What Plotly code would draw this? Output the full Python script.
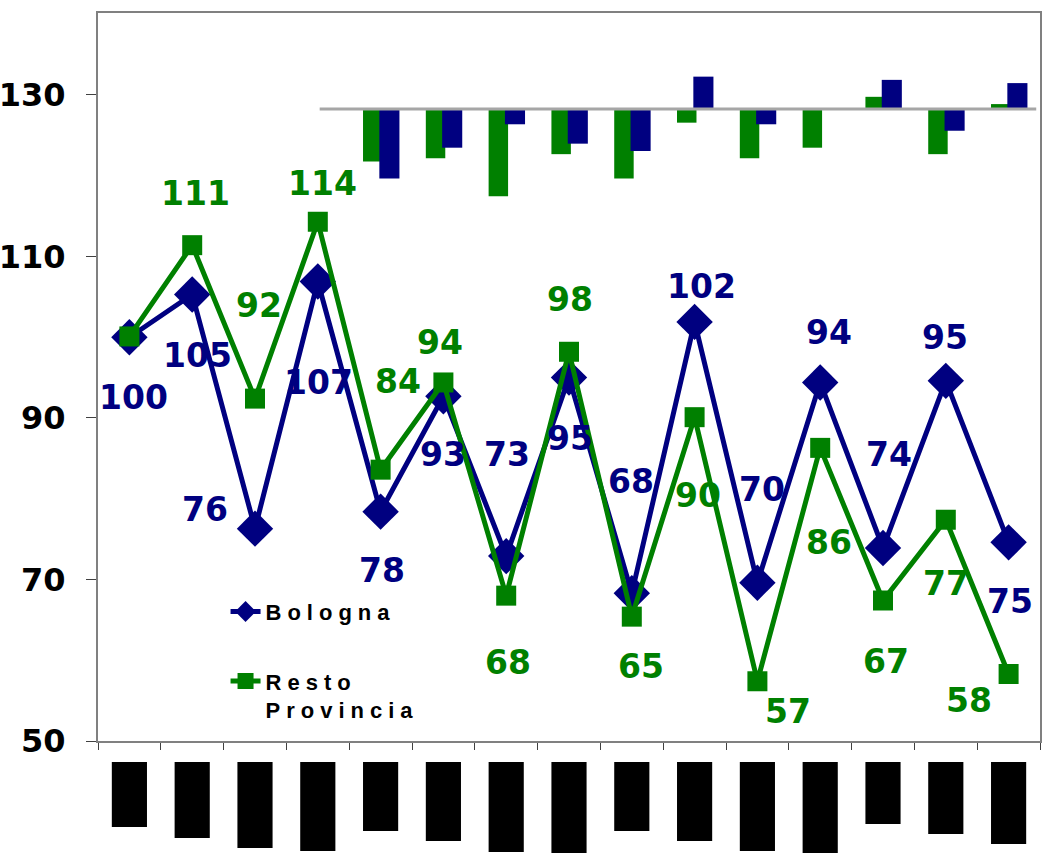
import plotly.graph_objects as go

# ---------------- data ----------------
categories = list(range(15))  # category positions (labels are hidden in the reference)
bologna = [100.0, 105.3, 76.3, 106.9, 78.4, 92.7, 72.9, 95.0, 68.3, 101.9, 69.6, 94.4, 73.9, 94.6, 74.6]
resto = [100.1, 111.4, 92.4, 114.3, 83.6, 94.4, 68.0, 98.2, 65.4, 90.1, 57.4, 86.3, 67.4, 77.4, 58.3]

# variation bars hanging from the upper baseline (categories 5..15)
var_resto = [None, None, None, None, -6.5, -6.1, -10.8, -5.6, -8.6, -1.7, -6.1, -4.8, 1.5, -5.6, 0.6]
var_bologna = [None, None, None, None, -8.6, -4.8, -1.9, -4.3, -5.2, 4.0, -1.9, 0.0, 3.6, -2.7, 3.2]

# black blocks under the x axis (hidden category labels), lengths in px-like units
label_blocks = [65, 76, 86, 89, 69, 79, 90, 91, 69, 79, 89, 91, 62, 72, 82]

y_ticks = [50, 70, 90, 110, 130]

# ---------------- style ----------------
BLUE = "#000080"
GREEN = "#008000"
AXIS = "#808080"
LABEL_FONT = "DejaVu Sans"

# label offsets (xshift, yshift) in px
off_bologna = [(4, -60), (5, -61), (-50, 19), (1, -101), (1, -59), (0, -58), (1, 102), (1, -61),
               (-1, 112), (7, 35), (5, 93), (9, 50), (6, 94), (-1, 43), (1, -59)]
off_resto = [None, (3, 52), (4, 93), (5, 38), (17, 88), (-3, 40), (2, -67), (1, 52),
             (9, -50), (3, -78), (31, -30), (9, -95), (3, -61), (0, -64), (-40, -27)]

fig = go.Figure()

# top variation bars
fig.add_trace(go.Bar(x=categories, y=var_resto, yaxis="y2", marker=dict(color=GREEN, line=dict(width=0)),
                     width=0.31, offset=-0.28, showlegend=False, hoverinfo="skip"))
fig.add_trace(go.Bar(x=categories, y=var_bologna, yaxis="y2", marker=dict(color=BLUE, line=dict(width=0)),
                     width=0.32, offset=-0.02, showlegend=False, hoverinfo="skip"))

# black blocks below the axis
fig.add_trace(go.Bar(x=categories, y=label_blocks, base=21, yaxis="y3", width=0.56,
                     marker=dict(color="black", line=dict(width=0)), showlegend=False, hoverinfo="skip"))

ls = "letter-spacing:6px"
fig.add_trace(go.Scatter(
    x=categories, y=bologna, mode="lines+markers",
    name=f'<span style="{ls}">Bologna</span>',
    line=dict(color=BLUE, width=5),
    marker=dict(symbol="diamond", size=28, color=BLUE),
    legendgroup="a",
))
fig.add_trace(go.Scatter(
    x=categories, y=resto, mode="lines+markers",
    name=f'<span style="{ls}">Resto</span><br><span style="{ls}">Provincia</span>',
    line=dict(color=GREEN, width=5),
    marker=dict(symbol="square", size=20, color=GREEN),
    legendgroup="b",
))

annotations = []
for i, v in enumerate(bologna):
    dx, dy = off_bologna[i]
    annotations.append(dict(x=categories[i], y=v, xref="x", yref="y", text=str(round(v)),
                            showarrow=False, xshift=dx, yshift=dy,
                            font=dict(family=LABEL_FONT, size=33, color=BLUE, weight="bold")))
for i, v in enumerate(resto):
    if off_resto[i] is None:
        continue
    dx, dy = off_resto[i]
    annotations.append(dict(x=categories[i], y=v, xref="x", yref="y", text=str(round(v)),
                            showarrow=False, xshift=dx, yshift=dy,
                            font=dict(family=LABEL_FONT, size=33, color=GREEN, weight="bold")))

fig.update_layout(
    width=1044, height=856, autosize=False,
    margin=dict(l=98, r=4, t=13, b=0, pad=0),
    paper_bgcolor="white", plot_bgcolor="white",
    barmode="overlay",
    xaxis=dict(range=[-0.5, 14.5], tickvals=[k - 0.5 for k in range(16)], ticks="outside",
               ticklen=7, tickwidth=1, tickcolor="#404040", showticklabels=False,
               showline=True, linecolor=AXIS, linewidth=2, mirror=True,
               showgrid=False, zeroline=False, automargin=False),
    yaxis=dict(domain=[0.1364, 1], range=[50, 140.15], tickvals=y_ticks, ticks="outside",
               ticklen=10, tickwidth=1, tickcolor="#404040",
               tickfont=dict(family=LABEL_FONT, size=32, color="black", weight="bold"),
               ticklabelstandoff=14,
               showline=True, linecolor=AXIS, linewidth=2, mirror=True,
               showgrid=False, zeroline=False, automargin=False),
    yaxis2=dict(overlaying="y", range=[-78.27, 11.88], visible=False, automargin=False),
    yaxis3=dict(domain=[0, 0.1364], range=[115, 0], visible=False, anchor="x", automargin=False),
    legend=dict(x=0.1354, y=0.3147, xanchor="left", yanchor="top", bgcolor="rgba(0,0,0,0)",
                font=dict(family="Liberation Sans", size=22, color="black", weight="bold"),
                tracegroupgap=38, itemwidth=30, valign="top"),
    shapes=[dict(type="line", xref="x", yref="y2", x0=3.03, x1=14.44, y0=0, y1=0,
                 line=dict(color="#A6A6A6", width=3), layer="above")],
    annotations=annotations,
)

fig.write_html("out.html", config={"displayModeBar": False},
               post_script="document.body.style.margin='0';document.body.style.overflow='hidden';")
